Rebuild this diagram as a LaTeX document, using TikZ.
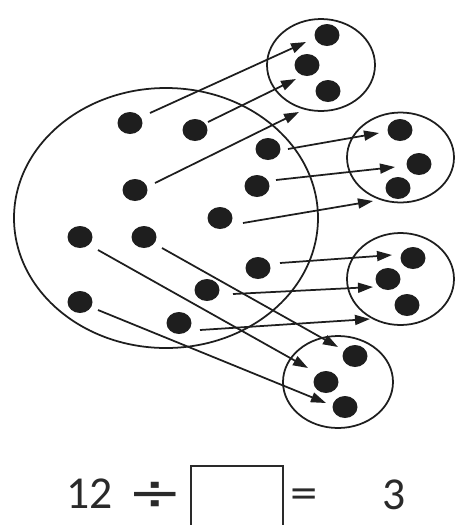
\documentclass[tikz,border=0pt]{standalone}
\usepackage{fontspec}
\setmainfont{Carlito}
\newfontfamily\symfont{DejaVu Sans}
\usepackage{graphicx}
\usetikzlibrary{arrows.meta,calc}
\definecolor{ink}{HTML}{1E1E1E}
\definecolor{txt}{HTML}{2A2A2A}
\tikzset{
  outline/.style={draw=ink, line width=1pt},
  dotfill/.style={fill=ink},
  arr/.style={draw=ink, line width=1pt, -{Triangle[length=0.3cm,width=0.2cm]}},
  eqtext/.style={text=txt, inner sep=0pt, font=\fontsize{26}{30}\selectfont},
}
\begin{document}
\begin{tikzpicture}[x=0.02cm, y=-0.02cm]
\useasboundingbox (0,0) rectangle (455,525);
% big set
\draw[outline] (166,218) ellipse [x radius=152, y radius=130];
% small sets
\draw[outline] (321,65) ellipse [x radius=54, y radius=46];
\draw[outline] (400.5,157.5) ellipse [x radius=53.5, y radius=45];
\draw[outline] (400.5,279) ellipse [x radius=53.5, y radius=46];
\draw[outline] (338,382) ellipse [x radius=55, y radius=46];
% dots in big set
\foreach \n/\x/\y in {a1/130/123, a2/195/130, a3/135/190, a4/268/149, a5/257/186, a6/220/218,
  a7/258/268, a8/207/290, a9/179/323, a10/144/237, a11/80/237, a12/80/302}{
  \coordinate (\n) at (\x,\y);
  \fill[dotfill] (\n) ellipse [x radius=12.5, y radius=11];
}
% dots in small sets
\foreach \n/\x/\y in {b1/327/35, b2/307/65, b3/328/91,
  b4/400/130, b5/419/164, b6/398/188,
  b7/413/258, b8/388/279, b9/407/305,
  b10/355/356, b11/326/382, b12/345/407}{
  \coordinate (\n) at (\x,\y);
  \fill[dotfill] (\n) ellipse [x radius=12.5, y radius=11];
}
% arrow tips
\foreach \n/\x/\y in {t1/306/42, t2/296/79, t3/299/112, t4/379/133, t5/395/167, t6/373/201,
  t7/392/255, t8/373/287, t9/370/319, t10/338/347, t11/308/368, t12/326/403}{
  \coordinate (\n) at (\x,\y);
}
% arrows
\draw[arr] ($(a1)+(20,-10)$) -- (t1);
\draw[arr] ($(a2)+(13,-8)$) -- (t2);
\draw[arr] ($(a3)+(20,-7)$) -- (t3);
\draw[arr] ($(a4)+(20,0)$) -- (t4);
\draw[arr] ($(a5)+(19,-6)$) -- (t5);
\draw[arr] ($(a6)+(23,5)$) -- (t6);
\draw[arr] ($(a7)+(22,-5)$) -- (t7);
\draw[arr] ($(a8)+(26,4)$) -- (t8);
\draw[arr] ($(a9)+(21,7)$) -- (t9);
\draw[arr] ($(a10)+(18,11)$) -- (t10);
\draw[arr] ($(a11)+(18,13)$) -- (t11);
\draw[arr] ($(a12)+(18,8)$) -- (t12);
% equation
\node[eqtext, anchor=base west] (n12) at (66,508) {12};
\node[eqtext] (div) at (155,496) {\symfont\fontsize{29}{32}\selectfont\scalebox{1.3}[1]{÷}};
\draw[draw=txt, line width=1pt] (191,540) |- (283,466) -- (283,540);
\node[eqtext] (eq) at (304.5,499) {\scalebox{1.2}[1]{=}};
\node[eqtext, anchor=base west] (n3) at (382,509) {3};
\end{tikzpicture}
\end{document}
